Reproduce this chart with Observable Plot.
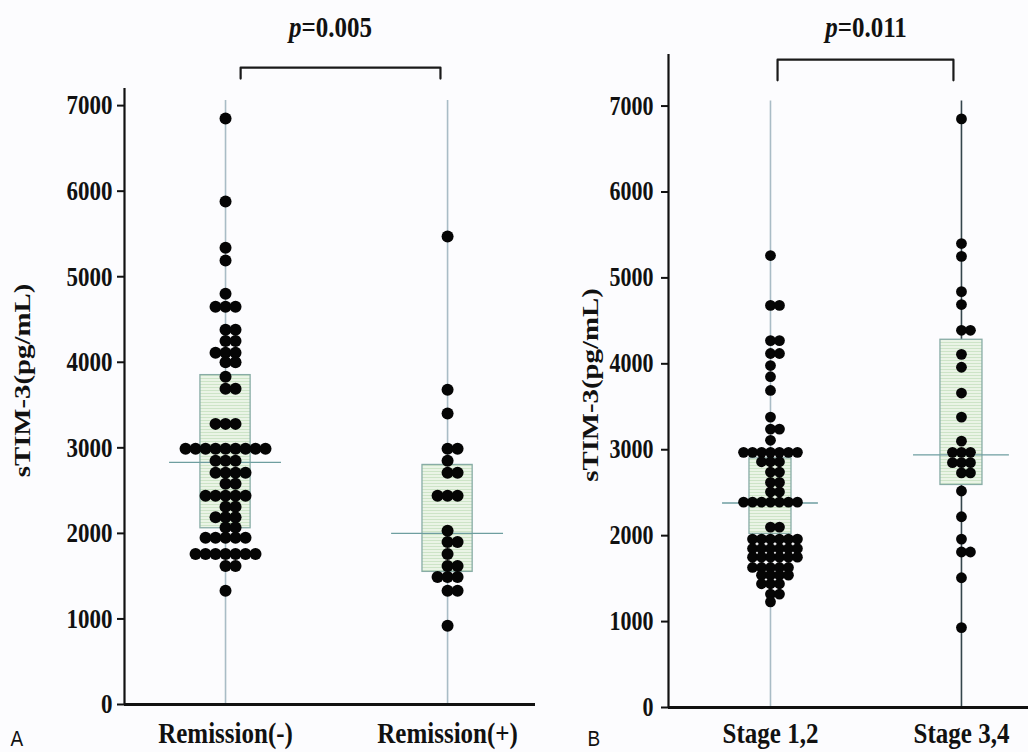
<!DOCTYPE html>
<html>
<head>
<meta charset="utf-8">
<script src="https://cdn.jsdelivr.net/npm/d3@7"></script>
<script src="https://cdn.jsdelivr.net/npm/@observablehq/plot@0.6"></script>
<style>
  html, body { margin: 0; padding: 0; background: #fcfcfe; }
  #wrap { position: relative; width: 1028px; height: 752px; overflow: hidden; }
  #panelA { position: absolute; left: 0; top: 0; }
  #panelB { position: absolute; left: 560px; top: 0; }
</style>
</head>
<body>
<svg width="0" height="0" style="position:absolute">
  <defs>
    <pattern id="hatch" width="6" height="3" patternUnits="userSpaceOnUse">
      <rect width="6" height="3" fill="#eaf4e6"></rect>
      <rect width="6" height="1" fill="#cde4c7"></rect>
    </pattern>
  </defs>
</svg>
<div id="wrap"><div id="panelA"></div><div id="panelB"></div></div>
<script>
// sTIM-3 (pg/mL), one value per patient
const leftGroups = ["Remission(-)", "Remission(+)"];
const rightGroups = ["Stage 1,2", "Stage 3,4"];

const remissionNeg = [
  6850, 5880, 5340, 5190, 4800, 4650, 4650, 4650, 4380, 4380, 4250, 4250,
  4110, 4110, 4110, 4000, 4000, 3830, 3690, 3690, 3280, 3280, 3280,
  2990, 2990, 2990, 2990, 2990, 2990, 2990, 2990, 2990,
  2850, 2850, 2850, 2710, 2710, 2710, 2710, 2580, 2580,
  2440, 2440, 2440, 2440, 2440, 2310, 2310, 2190, 2190, 2190, 2070, 2070,
  1950, 1950, 1950, 1950, 1950, 1760, 1760, 1760, 1760, 1760, 1760, 1760,
  1620, 1620, 1330
];
const remissionPos = [
  5470, 3680, 3400, 2990, 2990, 2850, 2710, 2710, 2440, 2440, 2440, 2030,
  1900, 1900, 1760, 1620, 1620, 1490, 1490, 1490, 1330, 1330, 920
];
const stage12 = [
  5260, 4680, 4680, 4270, 4270, 4120, 4120, 3980, 3850, 3690, 3380, 3240, 3240, 3110,
  2970, 2970, 2970, 2970, 2970, 2970, 2970, 2860, 2860, 2860, 2740, 2740,
  2620, 2620, 2510, 2510, 2390, 2390, 2390, 2390, 2390, 2390, 2390, 2100, 2100,
  1960, 1960, 1960, 1960, 1960, 1960, 1850, 1850, 1850, 1850, 1850, 1850,
  1750, 1750, 1750, 1750, 1750, 1750, 1630, 1630, 1630, 1630, 1630,
  1540, 1540, 1540, 1540, 1440, 1440, 1440, 1320, 1320, 1230
];
const stage34 = [
  6850, 5400, 5250, 4840, 4690, 4390, 4390, 4110, 3960, 3660, 3380, 3100,
  2970, 2970, 2970, 2850, 2850, 2850, 2730, 2730, 2520, 2220, 1960, 1810, 1810,
  1510, 930
];

// box summaries: lower quartile, median, upper quartile
const q1Left = [2060, 1550];
const medianLeft = [2830, 2000];
const q3Left = [3850, 2800];
const q1Right = [2020, 2590];
const medianRight = [2380, 2940];
const q3Right = [2900, 4280];

const yTicks = [0, 1000, 2000, 3000, 4000, 5000, 6000, 7000];
const pLeft = "p=0.005";
const pRight = "p=0.011";
const yLabel = "sTIM-3(pg/mL)";

const SERIF = "'Liberation Serif', 'Times New Roman', serif";
const TEXT_STRETCH = 1.2; // tall, narrow lettering

// Dot-plot layout: equal values share a row, filled from the centre outwards
// (an even row gets its extra dot on the right).
function rowLayout(values, g, step) {
  const counts = d3.rollup(values, v => v.length, v => v);
  const used = new Map();
  return values.map(v => {
    const n = counts.get(v);
    const k = used.get(v) ?? 0;
    used.set(v, k + 1);
    const start = -Math.floor((n - 1) / 2);
    return {g, v, x: g + (start + k) * step};
  });
}

function panel(o) {
  const dots = o.series.flatMap((vals, g) => rowLayout(vals, g, o.step));
  const boxes = o.groups.map((name, g) => ({g, name, q1: o.q1[g], med: o.med[g], q3: o.q3[g]}));
  const [x0, x1] = o.xDomain;
  const bracket = [
    [o.br[0], o.brLow], [o.br[0], o.brHigh], [o.br[1], o.brHigh], [o.br[1], o.brLow]
  ];
  const svg = Plot.plot({
    width: o.width,
    height: 752,
    marginLeft: o.marginLeft,
    marginRight: o.marginRight,
    marginTop: o.marginTop,
    marginBottom: o.marginBottom,
    x: {domain: o.xDomain, axis: null},
    y: {domain: o.yDomain, axis: null},
    style: {
      fontFamily: SERIF,
      fontWeight: "bold",
      fontSize: "22px",
      color: "#111",
      background: "transparent",
      overflow: "visible"
    },
    marks: [
      // guide line through each group
      ...boxes.map(b => Plot.ruleX([b.g], {y1: 0, y2: o.lineTop, stroke: o.lineColors[b.g], strokeWidth: 1.6})),
      // interquartile box
      Plot.rect(boxes, {
        x1: d => d.g - o.boxHalf, x2: d => d.g + o.boxHalf, y1: "q1", y2: "q3",
        fill: "url(#hatch)", stroke: "#88aca6", strokeWidth: 1.3
      }),
      // median
      Plot.ruleY(boxes, {
        y: "med", x1: d => d.g - o.medHalf, x2: d => d.g + o.medHalf,
        stroke: "#6e9ea0", strokeWidth: 1.4
      }),
      // patients
      Plot.dot(dots, {x: "x", y: "v", r: o.r, fill: "#050505", stroke: "none"}),
      // axes
      Plot.axisY({
        ticks: yTicks, tickFormat: d => String(d), tickSize: 7, tickPadding: o.tickPadding,
        strokeWidth: 2, fontSize: o.tickFont, label: null
      }),
      Plot.ruleX([x0], {y1: 0, y2: o.yDomain[1], strokeWidth: 2.2, stroke: "#111"}),
      Plot.ruleY([0], {x1: x0, x2: x1, strokeWidth: 3, stroke: "#111"}),
      // category labels
      Plot.text(o.groups, {x: (d, i) => i, y: 0, dy: o.catDy, text: d => d, fontSize: o.catFont, lineAnchor: "middle"}),
      // y label
      Plot.text([yLabel], {
        frameAnchor: "left", dx: o.ylabDx, dy: o.ylabDy, rotate: -90,
        textAnchor: "middle", lineAnchor: "middle", fontSize: o.ylabFont
      }),
      // panel letter
      Plot.text([o.letter], {
        frameAnchor: "bottom-left", dx: o.letterDx, dy: o.letterDy, textAnchor: "start", lineAnchor: "middle",
        fontFamily: "'Liberation Sans', Arial, sans-serif", fontWeight: "normal", fontSize: 19
      }),
      // significance bracket
      Plot.line(bracket, {x: d => d[0], y: d => d[1], stroke: "#1a1a1a", strokeWidth: 2.2}),
      Plot.text([o.p], {x: o.pX, y: o.pY, text: d => d, fontSize: o.pFont, lineAnchor: "middle"})
    ]
  });
  const root = d3.select(svg);
  // italic "p" in the significance label
  root.selectAll("text")
    .filter(function () { return /^p=/.test(this.textContent) && this.children.length === 0; })
    .each(function () {
      const t = this.textContent;
      const s = d3.select(this);
      s.text(null);
      s.append("tspan").attr("font-style", "italic").text("p");
      s.append("tspan").text(t.slice(1));
    });
  // stretch lettering along the vertical
  root.selectAll("text").each(function () {
    const t = this.getAttribute("transform");
    if (!t) return;
    const s = /rotate/.test(t) ? ` scale(${TEXT_STRETCH},1)` : ` scale(1,${TEXT_STRETCH})`;
    this.setAttribute("transform", t + s);
  });
  return svg;
}

document.getElementById("panelA").appendChild(panel({
  groups: leftGroups,
  series: [remissionNeg, remissionPos],
  q1: q1Left, med: medianLeft, q3: q3Left,
  width: 560, marginLeft: 124, marginRight: 25, marginTop: 88, marginBottom: 48,
  xDomain: [-0.455, 1.396], yDomain: [0, 7200],
  step: 0.045, r: 6, boxHalf: 0.113, medHalf: 0.252, lineTop: 7060,
  lineColors: ["#a9bcc6", "#a9bcc6"],
  tickPadding: 5, tickFont: 23, catFont: 25, catDy: 29,
  ylabFont: 24, ylabDx: -102, ylabDy: -16,
  letter: "A", letterDx: -114, letterDy: 34,
  br: [0.068, 0.968], brHigh: 7445, brLow: 7316,
  p: pLeft, pX: 0.473, pY: 7915, pFont: 25
}));

document.getElementById("panelB").appendChild(panel({
  groups: rightGroups,
  series: [stage12, stage34],
  q1: q1Right, med: medianRight, q3: q3Right,
  width: 468, marginLeft: 108, marginRight: 0, marginTop: 54, marginBottom: 45,
  xDomain: [-0.534, 1.351], yDomain: [0, 7600],
  step: 0.047, r: 5.4, boxHalf: 0.11, medHalf: 0.251, lineTop: 7060,
  lineColors: ["#a9bcc6", "#34454c"],
  tickPadding: 8, tickFont: 22, catFont: 25, catDy: 26,
  ylabFont: 24, ylabDx: -78, ylabDy: 4,
  letter: "B", letterDx: -81, letterDy: 31,
  br: [0.037, 0.958], brHigh: 7540, brLow: 7300,
  p: pRight, pX: 0.5, pY: 7915, pFont: 25
}));
</script>
</body>
</html>
